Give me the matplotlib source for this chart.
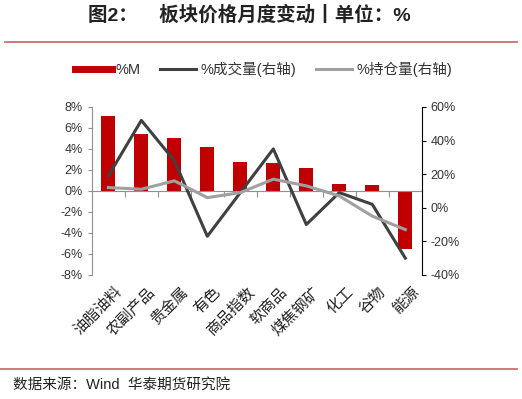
# -*- coding: utf-8 -*-
import matplotlib
matplotlib.use('Agg')
import matplotlib.pyplot as plt
from matplotlib.lines import Line2D

plt.rcParams['font.family'] = ['Liberation Sans', 'Noto Sans CJK SC', 'DejaVu Sans']

# data
categories = ['油脂油料', '农副产品', '贵金属', '有色', '商品指数',
              '软商品', '煤焦钢矿', '化工', '谷物', '能源']
price_m = [7.1, 5.4, 5.0, 4.2, 2.8, 2.7, 2.2, 0.65, 0.55, -5.5]
volume = [19, 52, 28, -17, 9, 35, -10, 9, 2, -30]
open_interest = [12, 11, 16, 6, 9, 17, 13, 7, -5, -13]
left_ticks = [-8, -6, -4, -2, 0, 2, 4, 6, 8]
right_ticks = [-40, -20, 0, 20, 40, 60]

red = '#C00000'
dark = '#404040'
gray = '#A0A0A0'

fig = plt.figure(figsize=(5.22, 3.99), dpi=100)
ax = fig.add_axes([0.176, 0.311, 0.632, 0.421])
x = list(range(len(categories)))

ax.bar(x, price_m, width=0.42, color=red, zorder=2)
ax.set_xlim(-0.5, len(categories) - 0.5)
ax.set_ylim(-8, 8)
ax.set_yticks(left_ticks)
ax.set_yticklabels(['%d%%' % v for v in left_ticks])
ax.tick_params(axis='y', labelsize=9, colors='#333333', length=3, color='#909090')

for s in ['top', 'right']:
    ax.spines[s].set_visible(False)
ax.spines['left'].set_color('#909090')
ax.spines['bottom'].set_position(('data', 0))
ax.spines['bottom'].set_color('#909090')
ax.set_xticks([i + 0.5 for i in x[:-1]])
ax.set_xticklabels([])
ax.tick_params(axis='x', length=4, color='#909090', direction='out')

for i, name in enumerate(categories):
    ax.annotate(name, xy=(i + 0.2, 0), xycoords=('data', 'axes fraction'),
                xytext=(0, -7), textcoords='offset points',
                rotation=45, ha='right', va='top', rotation_mode='anchor',
                fontsize=11, color='#222222')

ax2 = ax.twinx()
ax2.plot(x, volume, color=dark, lw=2.2, zorder=3)
ax2.plot(x, open_interest, color=gray, lw=2.2, zorder=3)
ax2.set_ylim(-40, 60)
ax2.set_yticks(right_ticks)
ax2.set_yticklabels(['%d%%' % v for v in right_ticks])
ax2.tick_params(axis='y', labelsize=9, colors='#333333', length=3, color='black')
for s in ['top', 'left', 'bottom']:
    ax2.spines[s].set_visible(False)
ax2.spines['right'].set_color('black')

handles = [Line2D([], [], color=red, lw=5),
           Line2D([], [], color=dark, lw=2.2),
           Line2D([], [], color=gray, lw=2.2)]
labels = ['%M', '%成交量(右轴)', '%持仓量(右轴)']
fig.legend(handles, labels, loc='center', bbox_to_anchor=(0.505, 0.825),
           ncol=3, frameon=False, fontsize=10.5, handlelength=2.5,
           handletextpad=0.3, columnspacing=1.3, labelcolor='#333333')

fig.text(0.478, 0.962, '图2：    板块价格月度变动丨单位：%', ha='center', va='center',
         fontsize=14, fontweight='bold', color='#222222')
fig.add_artist(Line2D([0.01, 0.99], [0.895, 0.895], color='#C87070', lw=1.3))
fig.add_artist(Line2D([0.0, 0.99], [0.075, 0.075], color='#C87070', lw=1.3))
fig.text(0.025, 0.035, '数据来源：Wind  华泰期货研究院', ha='left', va='center',
         fontsize=10.5, color='#222222')

fig.savefig('out.png', dpi=100)
